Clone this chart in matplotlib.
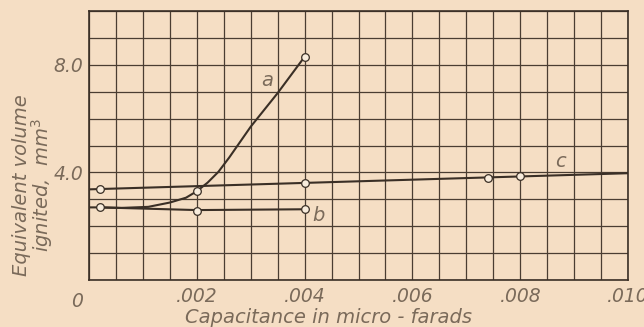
import numpy as np
import matplotlib.pyplot as plt

# curve a (rises steeply after .002)
a_x = [0.0002, 0.0006, 0.0011, 0.0015, 0.0018, 0.0020, 0.0022, 0.0024, 0.0026, 0.0030, 0.0035, 0.0040]
a_y = [2.70, 2.68, 2.72, 2.88, 3.06, 3.30, 3.62, 4.02, 4.55, 5.70, 6.95, 8.30]
a_pts_x = [0.002, 0.004]
a_pts_y = [3.30, 8.30]

# curve b (flat)
b_x = [0.0, 0.0002, 0.002, 0.004]
b_y = [2.70, 2.70, 2.60, 2.63]
b_pts_x = [0.0002, 0.002, 0.004]
b_pts_y = [2.70, 2.58, 2.63]

# curve c (slow straight rise)
c_x = [0.0, 0.010]
c_y = [3.37, 3.97]
c_pts_x = [0.0002, 0.004, 0.0074, 0.008]
c_pts_y = [3.38, 3.61, 3.81, 3.85]

xtick_vals = [0.002, 0.004, 0.006, 0.008, 0.010]
xtick_labels = ['.002', '.004', '.006', '.008', '.010']
ytick_vals = [4.0, 8.0]
ytick_labels = ['4.0', '8.0']

bg = '#f5dec4'
ink = '#3a2f26'
txt = '#7a6a5a'
font = dict(family='DejaVu Sans', style='italic', weight='light', color=txt)

fig = plt.figure(figsize=(6.44, 3.27), dpi=100, facecolor=bg)
ax = fig.add_axes([0.1382, 0.1437, 0.837, 0.8226], facecolor=bg)

ax.set_xlim(0, 0.010)
ax.set_ylim(0, 10)
ax.set_xticks(np.arange(0, 0.0101, 0.0005), minor=True)
ax.set_yticks(np.arange(0, 10.1, 1), minor=True)
ax.set_xticks(xtick_vals)
ax.set_xticklabels(xtick_labels, fontsize=13.5, **font)
ax.set_yticks(ytick_vals)
ax.set_yticklabels(ytick_labels, fontsize=13.5, **font)
ax.grid(which='both', color='#4a3d32', linewidth=0.9)
ax.tick_params(which='both', length=0)
ax.tick_params(axis='x', pad=5)
ax.tick_params(axis='y', pad=4)
for s in ax.spines.values():
    s.set_color(ink)
    s.set_linewidth(1.2)
ax.text(-0.022, -0.045, '0', transform=ax.transAxes, fontsize=13.5, ha='center', va='top', **font)

mk = dict(marker='o', markersize=5.5, markerfacecolor='#f8ecdc', markeredgecolor=ink,
          markeredgewidth=0.9, linestyle='none', zorder=4)
ax.plot(a_x, a_y, color=ink, linewidth=1.5, zorder=3)
ax.plot(b_x, b_y, color=ink, linewidth=1.5, zorder=3)
ax.plot(c_x, c_y, color=ink, linewidth=1.5, zorder=3)
ax.plot(a_pts_x, a_pts_y, **mk)
ax.plot(b_pts_x, b_pts_y, **mk)
ax.plot(c_pts_x, c_pts_y, **mk)

ax.text(0.00330, 7.4, 'a', fontsize=14, ha='center', va='center', **font)
ax.text(0.00425, 2.4, 'b', fontsize=14, ha='center', va='center', **font)
ax.text(0.00874, 4.4, 'c', fontsize=14, ha='center', va='center', **font)

fig.text(0.510, 0.0, 'Capacitance in micro - farads', fontsize=14, ha='center', va='bottom', **font)
fig.text(0.033, 0.434, 'Equivalent volume', fontsize=14, rotation=90, ha='center', va='center', **font)
fig.text(0.066, 0.434, 'ignited,  mm$^3$', fontsize=14, rotation=90, ha='center', va='center', **font)

fig.savefig('out.png', dpi=100, facecolor=bg)
